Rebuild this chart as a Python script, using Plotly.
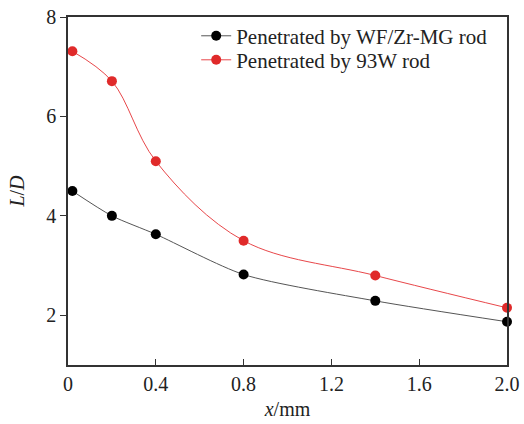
import plotly.graph_objects as go

x_vals = [0.02, 0.2, 0.4, 0.8, 1.4, 2.0]
wf_zr_mg = [4.50, 4.00, 3.63, 2.82, 2.29, 1.87]
w93 = [7.31, 6.71, 5.10, 3.50, 2.80, 2.15]
series_names = ["Penetrated by WF/Zr-MG rod", "Penetrated by 93W rod"]
x_ticks = [0, 0.4, 0.8, 1.2, 1.6, 2.0]
x_tick_labels = ["0", "0.4", "0.8", "1.2", "1.6", "2.0"]
y_ticks = [2, 4, 6, 8]

FONT = "Liberation Serif"

fig = go.Figure()
fig.add_trace(go.Scatter(
    x=x_vals, y=wf_zr_mg, name=series_names[0], mode="lines+markers",
    line=dict(color="#555555", width=1, shape="spline", smoothing=0.7),
    marker=dict(color="black", size=10), cliponaxis=False, legend="legend"))
fig.add_trace(go.Scatter(
    x=x_vals, y=w93, name=series_names[1], mode="lines+markers",
    line=dict(color="#e8474a", width=1, shape="spline", smoothing=1.0),
    marker=dict(color="#e02a2a", size=10), cliponaxis=False, legend="legend2"))

leg_common = dict(xanchor="left", yanchor="middle", bgcolor="rgba(0,0,0,0)",
                  font=dict(family=FONT, size=21, color="#222222"), itemwidth=30)

fig.update_layout(
    width=524, height=424,
    margin=dict(l=68, r=17, t=17, b=59, autoexpand=False),
    paper_bgcolor="white", plot_bgcolor="white",
    font=dict(family=FONT, size=20, color="#222222"),
    showlegend=True,
    legend=dict(x=0.292, y=0.945, **leg_common),
    legend2=dict(x=0.292, y=0.876, **leg_common),
    xaxis=dict(range=[0, 2.0], tickvals=x_ticks, ticktext=x_tick_labels,
               ticks="inside", ticklen=6, tickcolor="#333", showgrid=False, zeroline=False,
               showline=True, linecolor="#333", linewidth=1.5, mirror=True, automargin=False,
               title=dict(text="<i>x</i>/mm", font=dict(family=FONT, size=20), standoff=8)),
    yaxis=dict(range=[1, 8], tickvals=y_ticks,
               ticks="outside", ticklen=6, tickcolor="#333", showgrid=False, zeroline=False,
               showline=True, linecolor="#333", linewidth=1.5, mirror=True, automargin=False,
               title=dict(text="<i>L</i>/<i>D</i>", font=dict(family=FONT, size=20), standoff=16)),
)

fig.write_html("out.html", config={"displayModeBar": False},
               post_script="document.body.style.margin='0';document.body.style.overflow='hidden';")
